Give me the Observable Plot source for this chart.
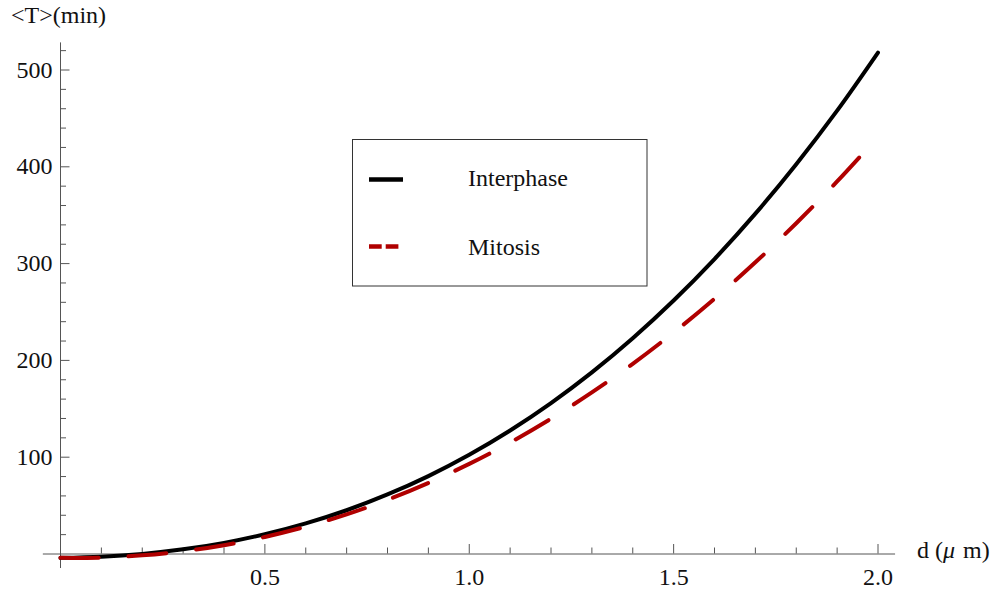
<!DOCTYPE html>
<html>
<head>
<meta charset="utf-8">
<script src="https://cdn.jsdelivr.net/npm/d3@7"></script>
<script src="https://cdn.jsdelivr.net/npm/@observablehq/plot@0.6"></script>
<style>
  html, body { margin: 0; padding: 0; background: #fff; }
  #chart svg { display: block; }
</style>
</head>
<body>
<div id="chart"></div>
<script>
// Mean time <T> (min) against distance d (µm), sampled every 0.1 µm
const distance = [0.0, 0.1, 0.2, 0.3, 0.4, 0.5, 0.6, 0.7, 0.8, 0.9, 1.0,
                  1.1, 1.2, 1.3, 1.4, 1.5, 1.6, 1.7, 1.8, 1.9, 2.0];
const interphase = [-4.0, -2.8, 0.1, 4.8, 11.5, 20.4, 31.6, 45.2, 61.5, 80.5, 102.5,
                    127.6, 155.9, 187.6, 222.9, 261.9, 304.7, 351.6, 402.7, 458.0, 518.0];
const mitosis = [-4.0, -3.7, -1.4, 2.8, 9.1, 17.6, 28.2, 40.9, 56.0, 73.4, 93.1,
                 115.2, 139.8, 166.9, 196.5, 228.8, 263.7, 301.3, 341.7, 384.9, 431.0];

// Axis ticks
const xMajor = [0.5, 1.0, 1.5, 2.0];
const xMinor = [0.1, 0.2, 0.3, 0.4, 0.6, 0.7, 0.8, 0.9, 1.1, 1.2, 1.3, 1.4,
                1.6, 1.7, 1.8, 1.9];
const yMajor = [100, 200, 300, 400, 500];
const yMinor = [20, 40, 60, 80, 120, 140, 160, 180, 220, 240, 260, 280,
                320, 340, 360, 380, 420, 440, 460, 480, 520];

const seriesNames = ["Interphase", "Mitosis"];

const W = 997, H = 596;
const mL = 60, mR = 119.5, mT = 69.5, mB = 42.5;
const xDomain = [0, 2], yDomain = [0, 500];
// pixels per data unit, used to size tick marks in pixels
const pxX = (W - mL - mR) / (xDomain[1] - xDomain[0]);
const pxY = (H - mT - mB) / (yDomain[1] - yDomain[0]);
const majorLen = 9.5, minorLen = 6;

const serif = "'Liberation Serif', 'Times New Roman', serif";
const axisColor = "#555";
const darkRed = "#b00000";

const rows = (vals) => distance.map((d, i) => ({d, t: vals[i]}));

const chart = Plot.plot({
  width: W,
  height: H,
  marginLeft: mL,
  marginRight: mR,
  marginTop: mT,
  marginBottom: mB,
  style: {background: "#fff", fontFamily: serif, overflow: "visible"},
  x: {domain: xDomain, axis: null},
  y: {domain: yDomain, axis: null},
  marks: [
    // axis lines crossing at the origin
    Plot.ruleY([0], {x1: -0.042, x2: 2.043, stroke: axisColor, strokeWidth: 1}),
    Plot.ruleX([0], {y1: -15, y2: 528, stroke: axisColor, strokeWidth: 1}),
    // x ticks pointing up, y ticks pointing right
    Plot.ruleX(xMajor, {x: d => d, y1: 0, y2: majorLen / pxY, stroke: axisColor}),
    Plot.ruleX(xMinor, {x: d => d, y1: 0, y2: minorLen / pxY, stroke: axisColor}),
    Plot.ruleY(yMajor, {y: d => d, x1: 0, x2: majorLen / pxX, stroke: axisColor}),
    Plot.ruleY(yMinor, {y: d => d, x1: 0, x2: minorLen / pxX, stroke: axisColor}),
    // tick labels
    Plot.text(xMajor, {x: d => d, y: 0, text: d => d.toFixed(1), dy: 23.5,
      fontSize: 24, fontFamily: serif, fill: "#111"}),
    Plot.text(yMajor, {x: 0, y: d => d, text: d => String(d), dx: -8,
      textAnchor: "end", fontSize: 24, fontFamily: serif, fill: "#111"}),
    // curves
    Plot.line(rows(interphase), {x: "d", y: "t", stroke: "#000", strokeWidth: 4,
      curve: "catmull-rom"}),
    Plot.line(rows(mitosis), {x: "d", y: "t", stroke: darkRed, strokeWidth: 4,
      strokeDasharray: "38,30", curve: "catmull-rom"})
  ]
});

document.getElementById("chart").appendChild(chart);

// Axis titles and the boxed legend
const svg = d3.select(chart);
const ann = svg.append("g")
  .attr("font-family", serif)
  .attr("font-size", 24)
  .attr("text-anchor", "start")
  .attr("fill", "#111");

ann.append("text").attr("x", 11).attr("y", 23).text("<T>(min)");

const xt = ann.append("text").attr("x", 917).attr("y", 558);
xt.append("tspan").text("d (");
xt.append("tspan").attr("font-style", "italic").text("\u03bc");
xt.append("tspan").attr("dx", 8).text("m)");

const lg = ann.append("g");
lg.append("rect")
  .attr("x", 352.5).attr("y", 139.5).attr("width", 294.5).attr("height", 146.5)
  .attr("fill", "#fff").attr("stroke", "#333").attr("stroke-width", 1);
lg.append("line")
  .attr("x1", 369).attr("x2", 403).attr("y1", 179.5).attr("y2", 179.5)
  .attr("stroke", "#000").attr("stroke-width", 4.5);
lg.append("line")
  .attr("x1", 369).attr("x2", 398.5).attr("y1", 246.5).attr("y2", 246.5)
  .attr("stroke", darkRed).attr("stroke-width", 4.5)
  .attr("stroke-dasharray", "12.7,4");
lg.append("text").attr("x", 468).attr("y", 186).text(seriesNames[0]);
lg.append("text").attr("x", 468).attr("y", 255).text(seriesNames[1]);
</script>
</body>
</html>
